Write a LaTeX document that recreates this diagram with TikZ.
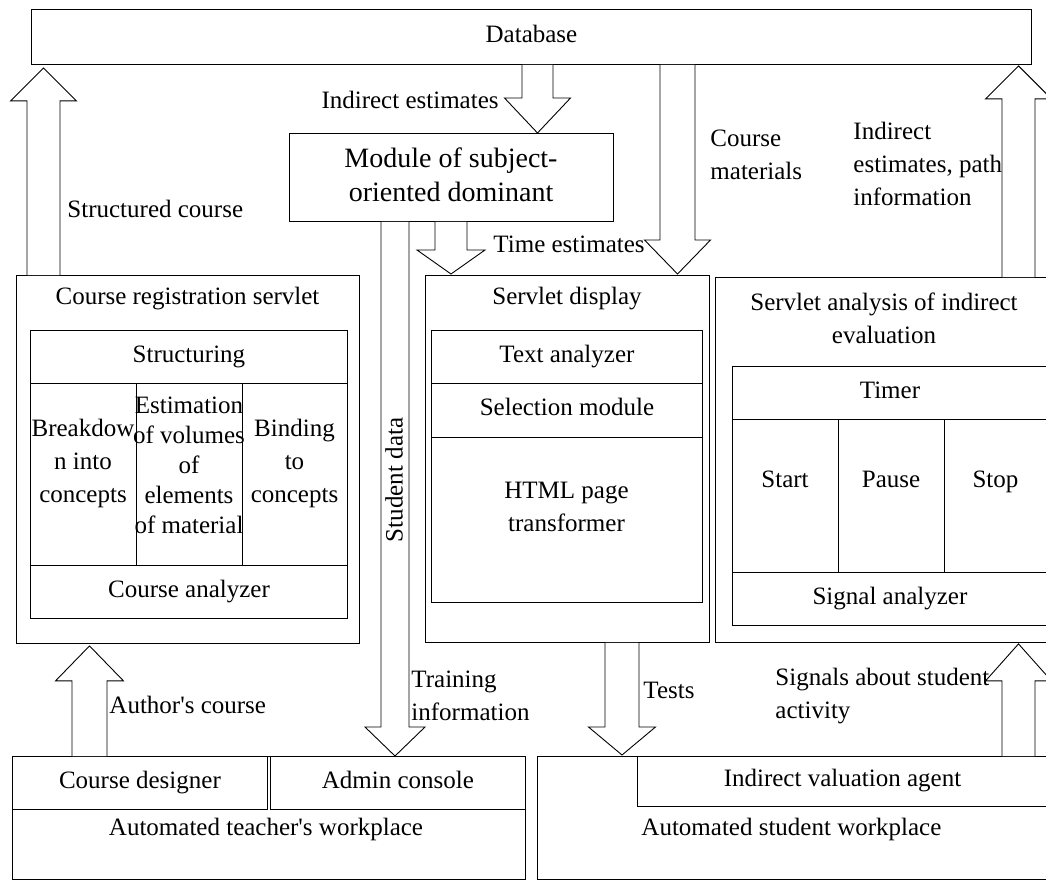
\documentclass[tikz,border=0pt]{standalone}
\usepackage{fontspec}
\setmainfont{Liberation Serif}
\usetikzlibrary{calc}
\newcommand\bx[6]{\node[box, minimum width={#4-#2}, minimum height={#5-#3}] (#1) at (#2,#3) {#6};}
\newcommand\barrow[5]{\draw[barr] let \p1=#1, \p2=#2, \n1={#5*sign(\y1-\y2)} in
  (\x1-#3,\y1) -- (\x1-#3,\y2+\n1) -- (\x1-#4,\y2+\n1) -- (\x1,\y2) -- (\x1+#4,\y2+\n1) -- (\x1+#3,\y2+\n1) -- (\x1+#3,\y1);}
\begin{document}
\begin{tikzpicture}[x=1pt,y=-1pt, line width=0.9pt,
  sl/.style={text height=17pt, text depth=6pt},
  box/.style={draw, rectangle, inner sep=0pt, anchor=north west, font=\fontsize{25}{33}\selectfont, align=center, sl},
  txt/.style={inner sep=0pt, font=\fontsize{25}{33}\selectfont, align=center},
  lbl/.style={inner sep=0pt, font=\fontsize{25}{33}\selectfont, align=left, anchor=west},
  barr/.style={draw, fill=white, line width=0.9pt, line join=miter}]
\useasboundingbox (0,0) rectangle (1046,880);
% boxes
\bx{db}{31}{9}{1031}{64}{Database}
\bx{mod}{289}{133}{613}{221}{}
\node[txt, font=\fontsize{28}{34}\selectfont] (tmod) at (451,175) {Module of subject-\\oriented dominant};
% course registration servlet
\bx{crs}{16}{275}{359}{643}{}
\node[txt, sl] (tcrs) at (187.5,299) {Course registration servlet};
\bx{struct}{30}{330}{347}{383}{Structuring}
\bx{brk}{30}{383}{136}{565}{}
\bx{est}{136}{383}{242}{565}{}
\bx{bind}{242}{383}{347}{565}{}
\node[txt] (tbrk) at (83,463) {Breakdow\\n into\\concepts};
\node[txt, font=\fontsize{25}{30}\selectfont] (test) at (189,465) {Estimation\\of volumes\\of\\elements\\of material};
\node[txt] (tbind) at (294.5,463) {Binding\\to\\concepts};
\bx{can}{30}{565}{347}{618}{Course analyzer}
% servlet display
\bx{sd}{425}{275}{709}{642}{}
\node[txt, sl] (tsd) at (567,299) {Servlet display};
\bx{ta}{431}{330}{702}{383}{Text analyzer}
\bx{sm}{431}{383}{702}{437}{Selection module}
\bx{html}{431}{437}{702}{602}{}
\node[txt] (thtml) at (566.5,507) {HTML page\\transformer};
% servlet analysis
\bx{sa}{715}{277}{1053}{642}{}
\node[txt] (tsa) at (884,318.5) {Servlet analysis of indirect\\evaluation};
\bx{timer}{732}{366}{1047}{419}{Timer}
\bx{start}{732}{419}{838}{572}{}
\bx{pause}{838}{419}{944}{572}{}
\bx{stop}{944}{419}{1047}{572}{}
\node[txt, sl] (tstart) at (785,482) {Start};
\node[txt, sl] (tpause) at (891,482) {Pause};
\node[txt, sl] (tstop) at (995.5,482) {Stop};
\bx{sig}{732}{572}{1047}{625}{Signal analyzer}
% bottom
\bx{tw}{12}{756}{525}{879}{}
\node[txt, sl] (ttw) at (266,830) {Automated teacher\textquotesingle s workplace};
\bx{cd}{12}{756}{267}{809}{Course designer}
\bx{ac}{270}{756}{525}{809}{Admin console}
\bx{sw}{537}{756}{1060}{879}{}
\node[lbl, sl] (tsw) at (641,830) {Automated student workplace};
\bx{iva}{637}{756}{1047}{806}{Indirect valuation agent}
% labels
\node[lbl, sl] (lsc) at (67,212) {Structured course};
\node[lbl, sl, anchor=east] (lie) at (499,103) {Indirect estimates};
\node[lbl, sl] (lte) at (493,247) {Time estimates};
\node[lbl] (lcm) at (710,154.5) {Course\\materials};
\node[lbl] (lip) at (853,163.5) {Indirect\\estimates, path\\information};
\node[lbl] (ltr) at (411,696) {Training\\information};
\node[lbl, sl] (lts) at (643,693) {Tests};
\node[lbl] (lsg) at (775,696.5) {Signals about student\\activity};
\node[lbl, sl] (lac) at (109,708) {Author\textquotesingle s course};
% block arrows
\barrow{($(crs.north west)+(27.5,0)$)}{($(db.south west)+(12.5,3)$)}{16.5}{33}{33}
\barrow{($(db.south west)+(506.5,0)$)}{($(mod.north west)+(248.5,0)$)}{15.5}{33}{35}
\barrow{($(mod.south west)+(106,0)$)}{($(ac.north west)+(125,0)$)}{14}{30}{29}
\barrow{($(mod.south west)+(162,0)$)}{($(sd.north west)+(26,-1)$)}{16}{34}{24}
\barrow{($(db.south west)+(646.5,0)$)}{($(sd.north west)+(252.5,-1)$)}{17.5}{33}{34}
\barrow{($(sa.north west)+(303.5,0)$)}{($(db.south east)+(-12.5,1)$)}{16.5}{33}{33}
\barrow{($(cd.north west)+(77.5,0)$)}{($(crs.south west)+(73.5,2)$)}{17.5}{34}{35}
\barrow{($(sd.south west)+(197,0)$)}{($(sw.north west)+(85,-1)$)}{17}{33.5}{28}
\barrow{($(iva.north west)+(381.5,0)$)}{($(sa.south west)+(303.5,1)$)}{16.5}{33}{37}
\node[txt, sl, rotate=90] (lsd) at (397,480) {Student data};
\end{tikzpicture}
\end{document}
